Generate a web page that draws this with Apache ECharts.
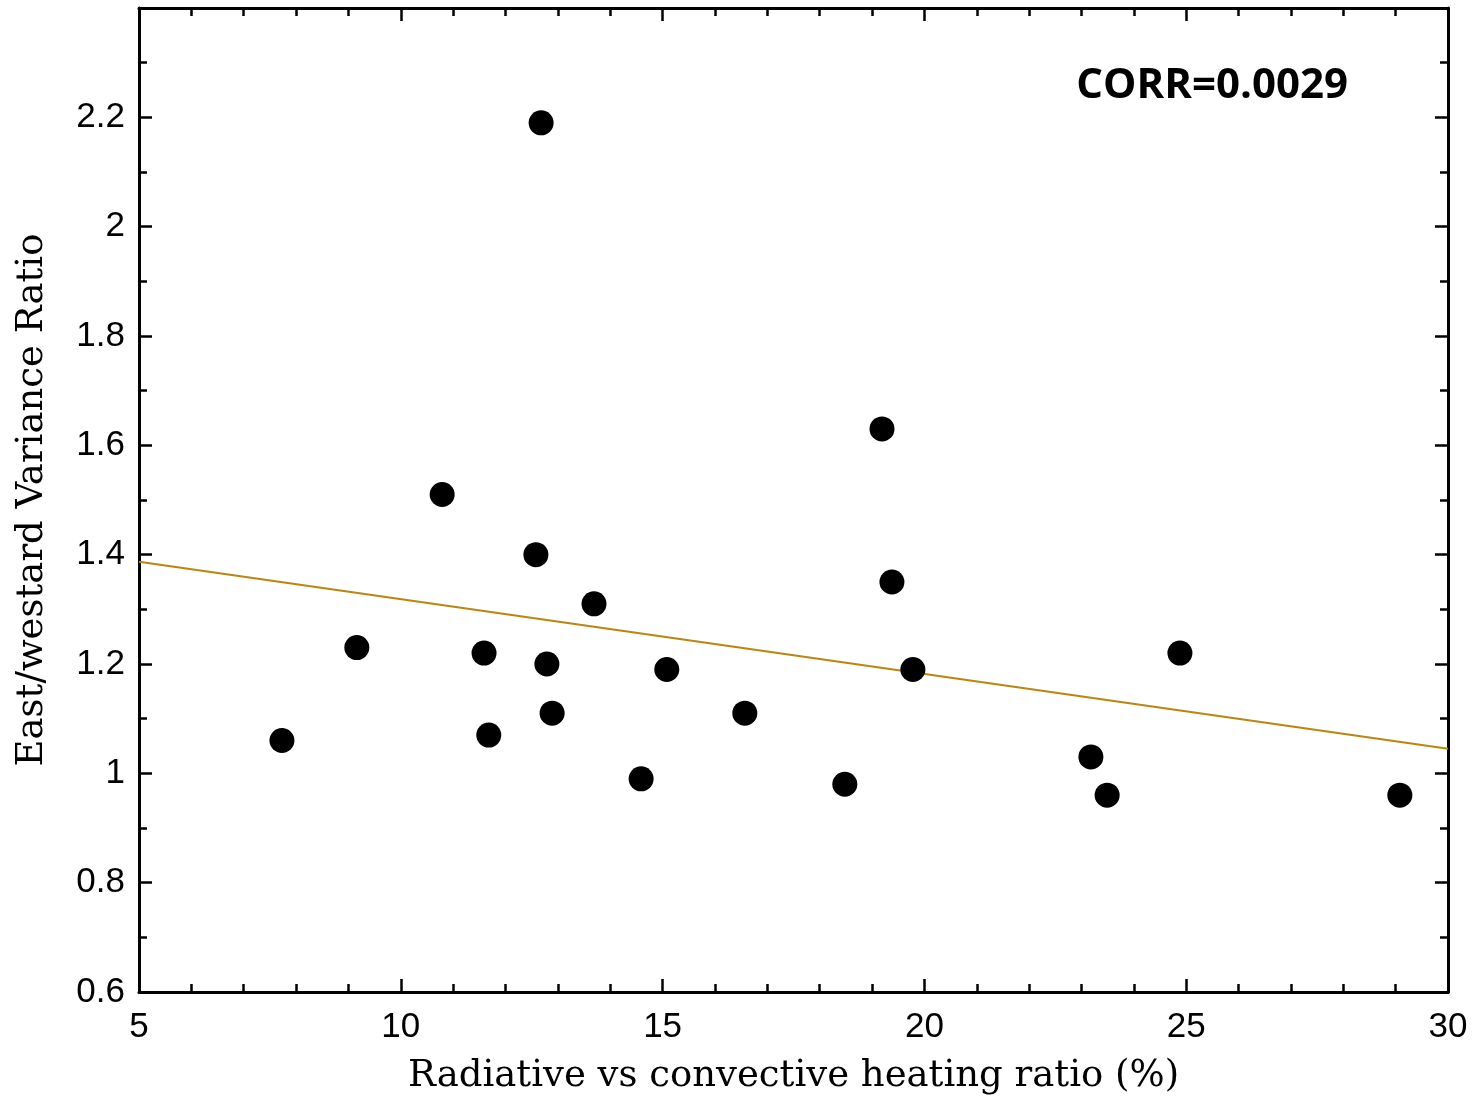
<!DOCTYPE html>
<html>
<head>
<meta charset="utf-8">
<script src="https://cdn.jsdelivr.net/npm/echarts@6/dist/echarts.min.js"></script>
<style>html,body{margin:0;padding:0;background:#fff}#c{width:1483px;height:1101px}</style>
</head>
<body>
<div id="c"></div>
<script>
const heatingRatio = [7.73, 9.16, 10.79, 11.59, 11.68, 12.58, 12.68, 12.79, 12.89, 13.69, 14.59, 15.08, 16.57, 18.48, 19.19, 19.38, 19.78, 23.18, 23.49, 24.88, 29.08];
const varianceRatio = [1.06, 1.23, 1.51, 1.22, 1.07, 1.40, 2.19, 1.20, 1.11, 1.31, 0.99, 1.19, 1.11, 0.98, 1.63, 1.35, 1.19, 1.03, 0.96, 1.22, 0.96];
const fitX = [5, 30];
const fitY = [1.387, 1.045];
const corrText = 'CORR=0.0029';
const xTitle = 'Radiative vs convective heating ratio (%)';
const yTitle = 'East/westard Variance Ratio';

const chart = echarts.init(document.getElementById('c'), null, {renderer: 'canvas'});
const axisCommon = {
  axisLine: {show: true, onZero: false, lineStyle: {color: '#000', width: 3}},
  axisTick: {show: true, inside: true, length: 13, lineStyle: {color: '#000', width: 2.5}},
  minorTick: {show: true, length: 8, lineStyle: {color: '#000', width: 2.5}},
  splitLine: {show: false}
};
const labelFont = {color: '#000', fontSize: 35, fontFamily: 'Liberation Sans'};
const titleFont = {color: '#000', fontSize: 37, fontFamily: 'DejaVu Serif'};

chart.setOption({
  animation: false,
  backgroundColor: '#fff',
  grid: {left: 139, right: 35, top: 8, bottom: 109},
  xAxis: [
    Object.assign({type: 'value', position: 'bottom', min: 5, max: 30, interval: 5,
      axisLabel: Object.assign({margin: 18}, labelFont),
      name: xTitle, nameLocation: 'middle', nameGap: 66, nameTextStyle: titleFont}, axisCommon,
      {minorTick: Object.assign({}, axisCommon.minorTick, {splitNumber: 5})}),
    Object.assign({type: 'value', position: 'top', min: 5, max: 30, interval: 5,
      axisLabel: {show: false}}, axisCommon,
      {minorTick: Object.assign({}, axisCommon.minorTick, {splitNumber: 5})})
  ],
  yAxis: [
    Object.assign({type: 'value', position: 'left', min: 0.6, max: 2.4, interval: 0.2,
      axisLabel: Object.assign({margin: 14, formatter: v => (v > 2.3 ? '' : String(+v.toFixed(1)))}, labelFont),
      name: yTitle, nameLocation: 'middle', nameGap: 88, nameTextStyle: titleFont}, axisCommon,
      {minorTick: Object.assign({}, axisCommon.minorTick, {splitNumber: 2})}),
    Object.assign({type: 'value', position: 'right', min: 0.6, max: 2.4, interval: 0.2,
      axisLabel: {show: false}}, axisCommon,
      {minorTick: Object.assign({}, axisCommon.minorTick, {splitNumber: 2})})
  ],
  graphic: [{
    type: 'text', right: 1483 - 1348, top: 65,
    style: {text: corrText, font: 'bold 42px "Open Sans"', fill: '#000'}
  }],
  series: [
    {
      type: 'line', xAxisIndex: 0, yAxisIndex: 0,
      data: fitX.map((x, i) => [x, fitY[i]]),
      showSymbol: false, symbol: 'none',
      lineStyle: {color: '#b8860b', width: 2}, z: 1
    },
    {
      type: 'scatter', xAxisIndex: 0, yAxisIndex: 0,
      data: heatingRatio.map((x, i) => [x, varianceRatio[i]]),
      symbol: 'circle', symbolSize: 25,
      itemStyle: {color: '#000', opacity: 1}, z: 3
    }
  ]
});
</script>
</body>
</html>
